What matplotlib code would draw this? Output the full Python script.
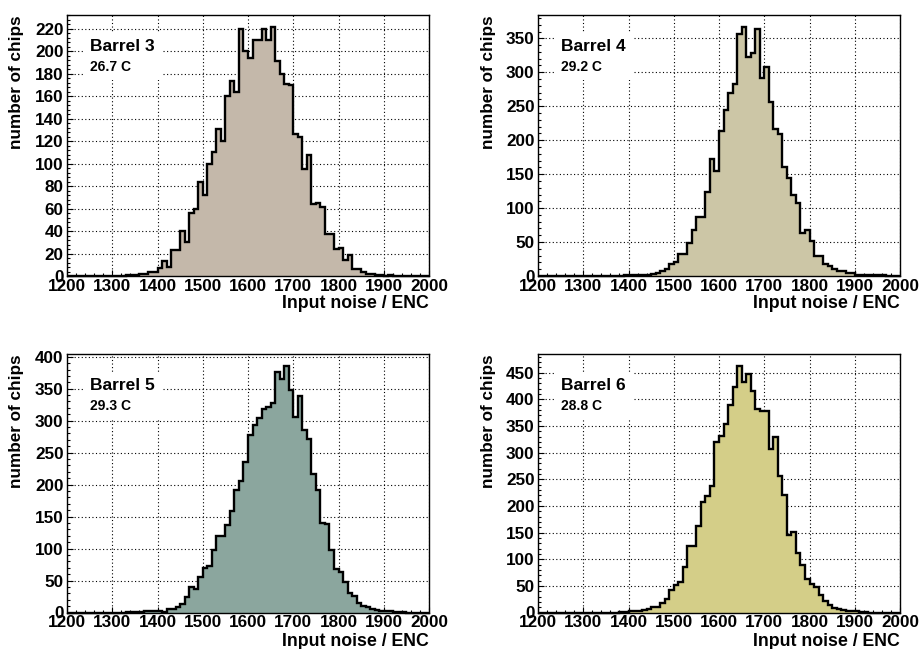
import numpy as np
import matplotlib
matplotlib.use("Agg")
import matplotlib.pyplot as plt
from matplotlib.patches import Rectangle
from matplotlib.ticker import MultipleLocator

plt.rcParams['font.family'] = ['Liberation Sans', 'DejaVu Sans']
plt.rcParams['font.weight'] = 'bold'

# bin edges, 10 ENC wide, 1200..2000
edges = np.arange(1200, 2001, 10)

# counts per bin, one row per 100 ENC
barrel3 = [0, 0, 0, 0, 0, 0, 0, 0, 0, 0,
           0, 0, 0, 1, 1, 1, 2, 2, 4, 4,
           7, 13, 8, 23, 23, 40, 30, 56, 60, 84,
           72, 100, 110, 131, 120, 160, 173, 164, 220, 200,
           194, 210, 210, 220, 210, 221, 191, 180, 171, 170,
           126, 124, 95, 108, 64, 65, 61, 37, 37, 24,
           25, 14, 19, 6, 6, 4, 2, 2, 1, 1,
           0, 1, 0, 0, 0, 0, 0, 0, 0, 0]

barrel4 = [0, 0, 0, 0, 0, 0, 0, 0, 0, 0,
           0, 0, 0, 0, 0, 0, 0, 0, 0, 1,
           1, 1, 1, 2, 2, 3, 5, 7, 10, 17,
           20, 33, 33, 49, 68, 87, 87, 123, 173, 155,
           214, 244, 270, 283, 357, 366, 323, 329, 364, 291,
           308, 256, 216, 209, 161, 145, 120, 108, 63, 68,
           51, 30, 29, 18, 15, 10, 7, 7, 5, 4,
           2, 2, 1, 1, 1, 1, 1, 0, 0, 0]

barrel5 = [0, 0, 0, 0, 0, 0, 0, 0, 0, 0,
           0, 0, 0, 1, 1, 1, 1, 2, 2, 3,
           3, 1, 6, 6, 9, 14, 25, 40, 37, 56,
           69, 72, 97, 119, 119, 137, 159, 192, 205, 236,
           277, 293, 304, 318, 322, 327, 376, 365, 385, 348,
           306, 339, 285, 272, 217, 192, 140, 138, 98, 68,
           63, 47, 30, 26, 15, 10, 8, 6, 4, 3,
           2, 2, 1, 1, 1, 0, 0, 0, 0, 0]

barrel6 = [0, 0, 0, 0, 0, 0, 0, 0, 0, 0,
           0, 0, 0, 0, 0, 0, 0, 0, 1, 1,
           2, 3, 3, 5, 7, 10, 10, 18, 26, 43,
           51, 57, 86, 125, 125, 162, 207, 219, 237, 320,
           331, 354, 389, 423, 462, 433, 447, 415, 382, 379,
           379, 306, 329, 257, 220, 145, 151, 111, 89, 62,
           53, 48, 33, 22, 15, 9, 7, 4, 3, 2,
           2, 1, 1, 0, 0, 0, 0, 0, 0, 0]

names = ["Barrel 3", "Barrel 4", "Barrel 5", "Barrel 6"]
temps = ["26.7 C", "29.2 C", "29.3 C", "28.8 C"]
data = [barrel3, barrel4, barrel5, barrel6]
ysteps = [20, 50, 50, 50]
colors = ["#c4b8aa", "#ccc6a6", "#8ba69e", "#d4ce88"]

W, H = 919, 649
fig = plt.figure(figsize=(W / 100, H / 100), dpi=100)

# axes boxes in pixels: left, top, right, bottom
boxes = [(67, 15, 429, 276), (538, 15, 900, 276),
         (67, 354, 429, 612.5), (538, 354, 900, 612.5)]
xlab_off = [27, 27, 29, 29]

for i in range(4):
    l, t, r, b = boxes[i]
    ax = fig.add_axes([l / W, 1 - b / H, (r - l) / W, (b - t) / H])
    counts = np.array(data[i])
    ax.set_axisbelow(True)
    ax.stairs(counts, edges, fill=True, color=colors[i], zorder=2)
    ax.stairs(counts, edges, color='black', lw=1.7, zorder=3, clip_on=False)

    ax.set_xlim(1200, 2000)
    ax.set_ylim(0, counts.max() * 1.05)
    ax.xaxis.set_major_locator(MultipleLocator(100))
    ax.xaxis.set_minor_locator(MultipleLocator(20))
    ax.yaxis.set_major_locator(MultipleLocator(ysteps[i]))
    ax.yaxis.set_minor_locator(MultipleLocator(ysteps[i] / 5))
    ax.tick_params(which='both', direction='in', top=False, right=False,
                   width=0.8, labelsize=12.3)
    ax.tick_params(which='major', length=4)
    ax.tick_params(which='minor', length=2)
    ax.tick_params(axis='x', pad=2)
    ax.tick_params(axis='y', pad=2.5)
    for lab in ax.get_xticklabels() + ax.get_yticklabels():
        lab.set_fontweight('bold')
    ax.grid(which='major', color='black', lw=0.8, linestyle=(0, (1, 2.2)))
    for s in ax.spines.values():
        s.set_linewidth(1.0)

    # white box behind the label
    ax.add_patch(Rectangle((18 / (r - l), 1 - 65 / (b - t)), 77 / (r - l), 47 / (b - t),
                           transform=ax.transAxes, facecolor='white',
                           edgecolor='none', zorder=1))
    ax.text(23 / (r - l), 1 - 31 / (b - t), names[i], transform=ax.transAxes,
            fontsize=12.5, va='center', ha='left', zorder=4)
    ax.text(23 / (r - l), 1 - 51.5 / (b - t), temps[i], transform=ax.transAxes,
            fontsize=10, va='center', ha='left', zorder=4)

    ax.annotate("Input noise / ENC", xy=(1, 0), xycoords='axes fraction',
                xytext=(0, -xlab_off[i] * 0.72), textcoords='offset points',
                ha='right', va='center', fontsize=12.8)
    ax.annotate("number of chips", xy=(0, 1), xycoords='axes fraction',
                xytext=(-50 * 0.72, 0), textcoords='offset points',
                rotation=90, ha='center', va='top', fontsize=12.3)

fig.savefig("out.png", dpi=100)
